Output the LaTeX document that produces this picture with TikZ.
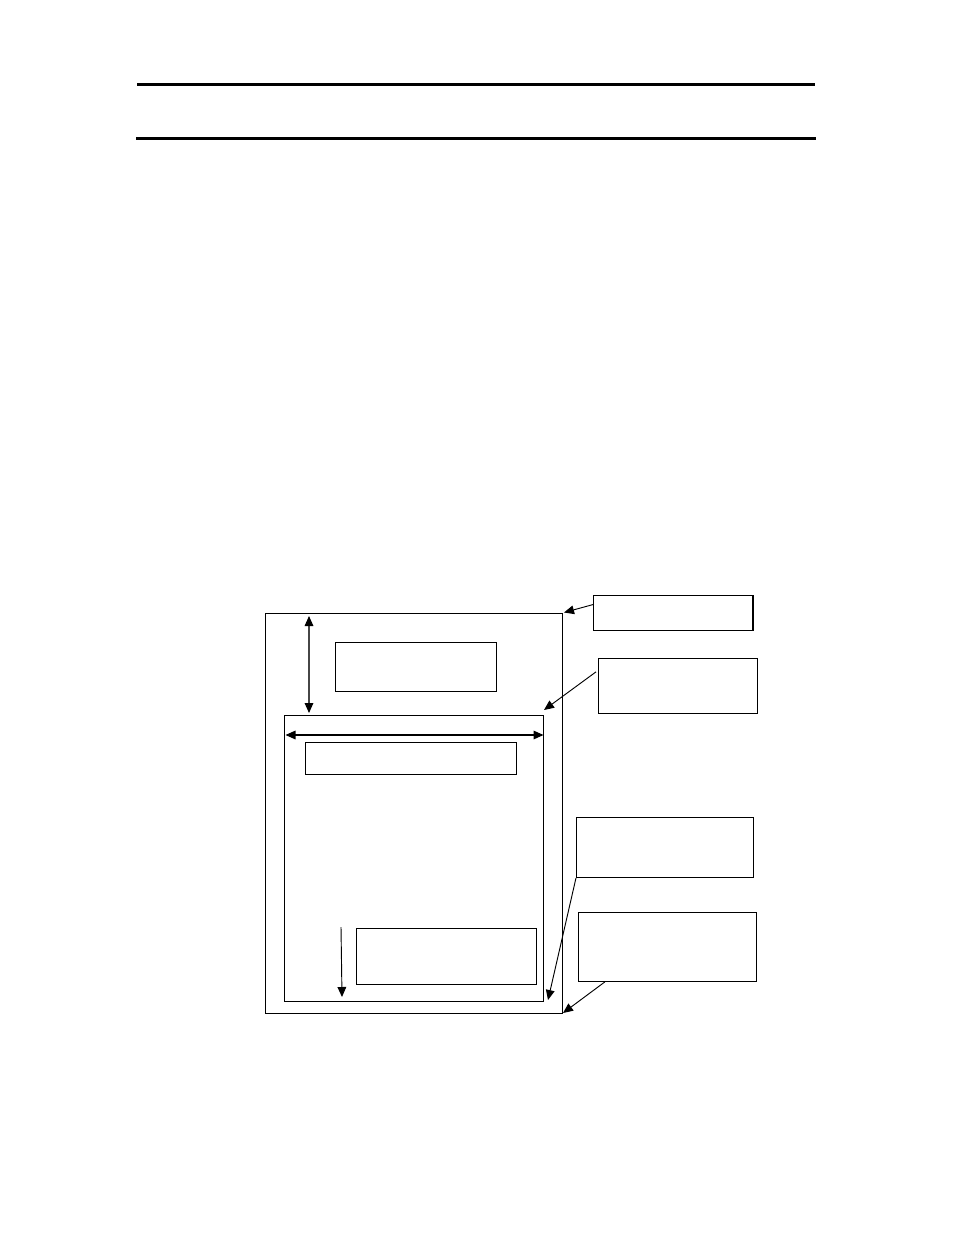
\documentclass[tikz,border=0pt]{standalone}
\usetikzlibrary{arrows.meta}
\begin{document}
\begin{tikzpicture}[x=0.75pt,y=0.75pt,yscale=-1,
    box/.style={draw, line width=0.7pt, inner sep=0pt, anchor=north west},
    tip/.style={-{Triangle[length=7.5pt,width=6.5pt]}, line width=0.7pt},
    dimarrow/.style={{Triangle[length=7.5pt,width=6.5pt,color=black]}-{Triangle[length=7.5pt,width=6.5pt,color=black]}, line width=0.8pt}]
    \useasboundingbox (0,0) rectangle (954,1235);
    
    %Straight Lines [header rules]
    \draw [line width=2.2pt]   (137,84.5) -- (815,84.5) ;
    \draw [line width=2.2pt]   (136,138.5) -- (816,138.5) ;
    
    %Shape: Rectangle [page]
    \coordinate (pageNW) at (265,613);
    \coordinate (pageSE) at (562,1013);
    \draw [line width=0.7pt]  (pageNW) rectangle (pageSE) ;
    %Shape: Rectangle [frame]
    \coordinate (frameNW) at (284,715.5);
    \coordinate (frameSE) at (543,1001);
    \draw [line width=0.7pt]  (frameNW) rectangle (frameSE) ;
    \draw [line width=1.4pt]  (frameNW) -- (frameSE |- frameNW) ;
    
    %Shape: Rectangle [boxes on the page]
    \node [box, minimum width=120.75pt, minimum height=36.75pt] (head) at (335,642) {};
    \node [box, minimum width=158.25pt, minimum height=24pt] (title) at (305,742) {};
    \node [box, minimum width=135pt, minimum height=42pt] (foot) at (356,928) {};
    
    %Shape: Rectangle [callouts]
    \node [box, minimum width=119.25pt, minimum height=26.25pt] (calloutA) at (593,595) {};
    \draw [line width=1.4pt]  (calloutA.north east) -- (calloutA.south east) ;
    \node [box, minimum width=119.25pt, minimum height=41.25pt] (calloutB) at (598,658) {};
    \node [box, minimum width=132.75pt, minimum height=45pt] (calloutC) at (576,817) {};
    \node [box, minimum width=133.5pt, minimum height=51.75pt] (calloutD) at (578,912) {};
    
    % arrow ends
    \coordinate (pageNE) at (564,612.5);
    \coordinate (frameNE) at (544,710);
    \coordinate (frameSEout) at (548,1000);
    \coordinate (pageSEout) at (563,1013);
    \coordinate (topGapA) at (309,616);
    \coordinate (topGapB) at (309,713);
    \coordinate (widthA) at (285.5,735);
    \coordinate (widthB) at (543.5,735);
    \coordinate (flowA) at (341,927);
    \coordinate (flowB) at (342,997);
    
    %Straight Lines [callout arrows]
    \draw [tip]   (calloutA.174) -- (pageNE) ;
    \draw [tip]   ([xshift=-1.5pt]calloutB.170) -- (frameNE) ;
    \draw [tip]   (calloutC.south west) -- (frameSEout) ;
    \draw [tip]   ([xshift=-47pt]calloutD.south) -- (pageSEout) ;
    
    %Straight Lines [dimension arrows]
    \draw [dimarrow, color={rgb, 255:red, 70; green, 70; blue, 70 }]   (topGapA) -- (topGapB) ;
    \draw [dimarrow]   (widthA) -- (widthB) ;
    \draw [tip]   (flowA) -- (flowB) ;
    
\end{tikzpicture}
\end{document}
